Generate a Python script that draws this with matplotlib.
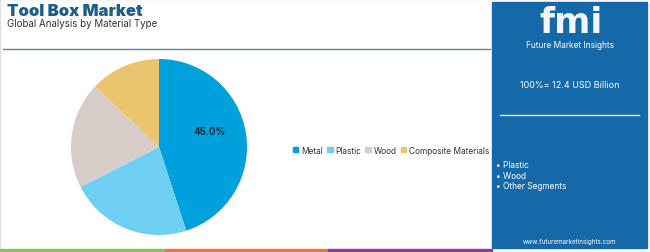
import matplotlib
matplotlib.use("Agg")
import matplotlib.pyplot as plt
from matplotlib.patches import Rectangle
from matplotlib.lines import Line2D

categories = ["Metal", "Plastic", "Wood", "Composite Materials"]
shares = [45.0, 22.5, 19.5, 13.0]
colors = ["#00A0DC", "#6ECFF3", "#D8CCC8", "#EBC56E"]
total_label = "100%= 12.4 USD Billion"
bullets = ["Plastic", "Wood", "Other Segments"]

W, H = 650, 253
fig = plt.figure(figsize=(W / 100, H / 100), dpi=100)
plt.rcParams['font.family'] = ['Inter', 'DejaVu Sans']

def fx(x): return x / W
def fy(y): return 1 - y / H

# border
fig.patches.append(Rectangle((0, 0), 1, 1, transform=fig.transFigure, fill=False,
                             edgecolor="#E0E0E0", linewidth=1))

# title
fig.text(fx(7), fy(12), "Tool Box Market", fontsize=12, fontweight="black",
         color="#1B5E8E", va="center", ha="left")
fig.text(fx(7), fy(24), "Global Analysis by Material Type", fontsize=7,
         color="#333333", va="center", ha="left")
fig.add_artist(Line2D([fx(3), fx(490)], [fy(50), fy(50)], color="#5A87A8", linewidth=1))

# bottom stripes
for x0, x1, c in [(0, 165, "#8BC34A"), (165, 328, "#E8773A"), (328, 492, "#8E3A96")]:
    fig.patches.append(Rectangle((fx(x0), 0), fx(x1) - fx(x0), 3 / H,
                                 transform=fig.transFigure, color=c, zorder=3))

# right panel
fig.patches.append(Rectangle((fx(492), fy(249)), fx(647) - fx(492), (249 - 3) / H,
                             transform=fig.transFigure, color="#1669A9", zorder=1))
fig.text(fx(571), fy(33), "fmi", fontsize=25, fontweight="black", color="#F2F6FA",
         ha="center", va="baseline", family="DejaVu Sans", zorder=4)
fig.text(fx(570), fy(46), "Future Market Insights", fontsize=6, color="white",
         ha="center", va="center", zorder=4)
fig.text(fx(570), fy(85), total_label, fontsize=6.5, color="white",
         ha="center", va="center", zorder=4)
fig.add_artist(Line2D([fx(500), fx(639)], [fy(116), fy(116)], color="#DDE8F2", linewidth=1, zorder=4))
for i, b in enumerate(bullets):
    fig.text(fx(496), fy(166 + i * 10.5), "• " + b, fontsize=6, color="white",
             ha="left", va="center", zorder=4)
fig.text(fx(570), fy(242), "www.futuremarketinsights.com", fontsize=4.5, color="white",
         ha="center", va="center", zorder=4)

# pie
cx, cy, r = 159, 148, 88
ax = fig.add_axes([fx(cx - r), fy(cy + r), 2 * r / W, 2 * r / H])
ax.pie(shares, colors=colors, startangle=90, counterclock=False, radius=1,
       wedgeprops=dict(linewidth=0))
ax.set_xlim(-1, 1)
ax.set_ylim(-1, 1)
ax.set_aspect("auto")
ax.axis("off")
ax.text(0.58, 0.18, f"{shares[0]:.1f}%", fontsize=7, fontweight="bold",
        color="#1A2B40", ha="center", va="center")

# legend
handles = [Rectangle((0, 0), 1, 1, color=c) for c in colors]
fig.legend(handles, categories, loc="center", bbox_to_anchor=(fx(391), fy(151)),
           ncol=4, frameon=False, fontsize=6, handlelength=0.65, handleheight=0.65,
           handletextpad=0.3, columnspacing=0.55, labelcolor="#333333",
           borderpad=0, borderaxespad=0)

fig.savefig("out.png", dpi=100)
